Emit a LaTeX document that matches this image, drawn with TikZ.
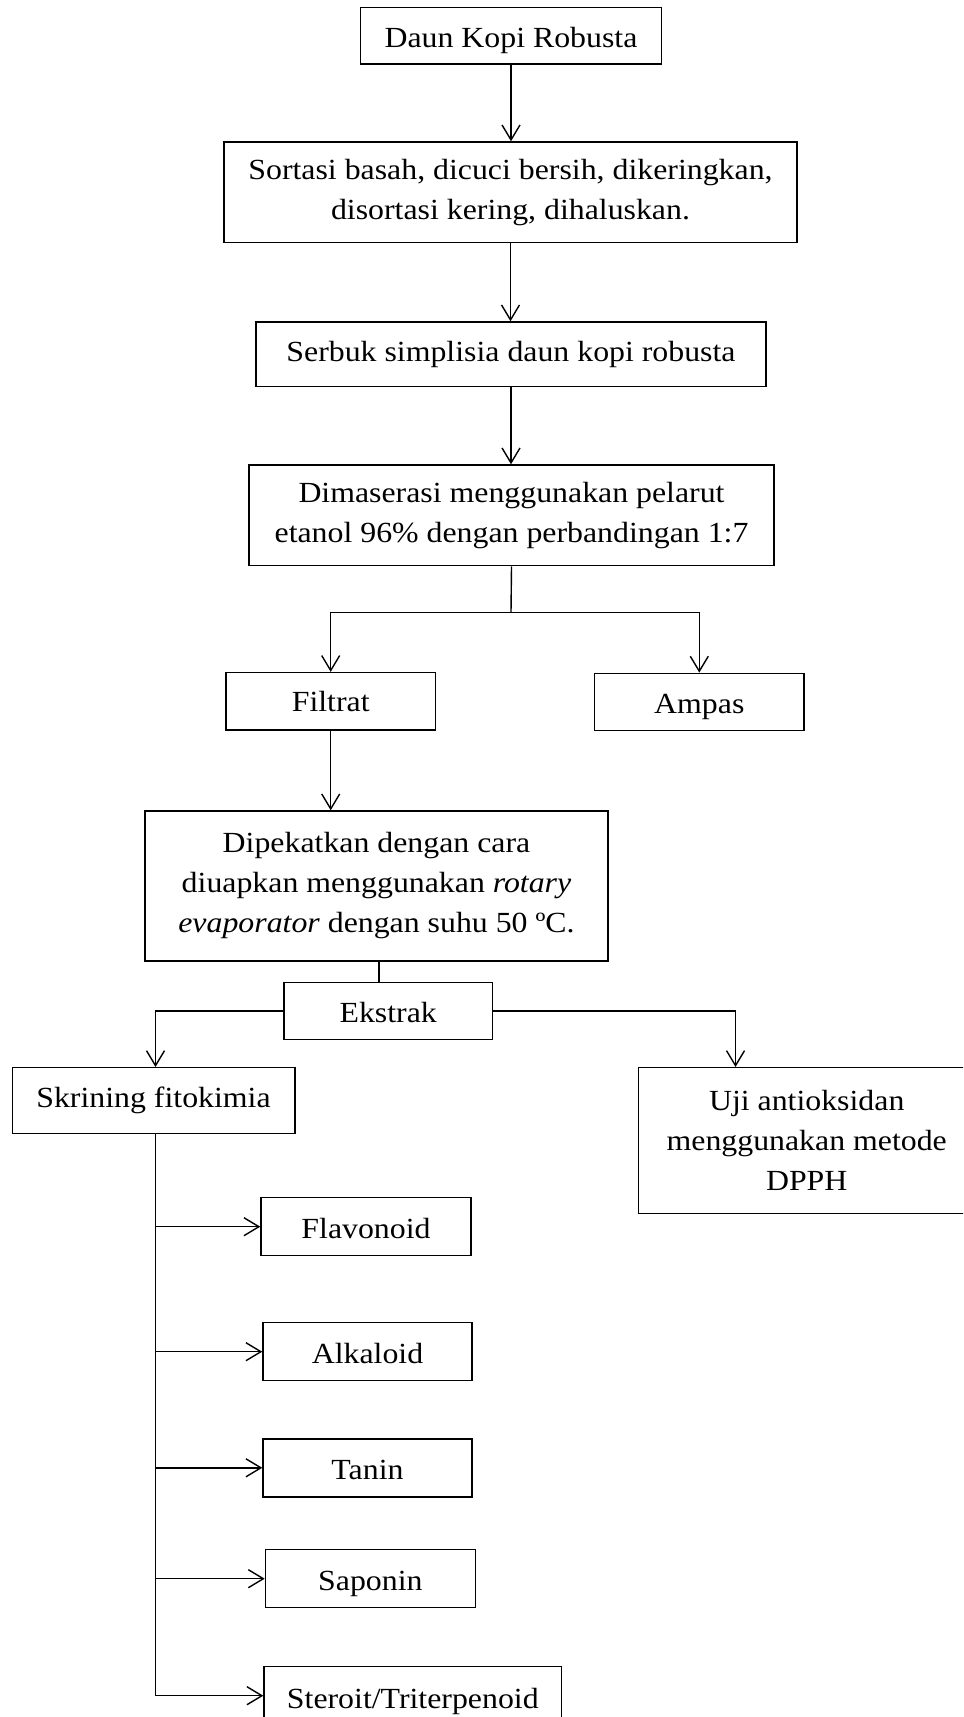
\documentclass[tikz,border=0pt]{standalone}
\usepackage{fontspec}
\setmainfont[FakeStretch=1.09]{Liberation Serif}
\usetikzlibrary{arrows.meta}
\begin{document}
\begin{tikzpicture}[x=0.5pt,y=-0.5pt,
  box/.style={draw, line width=0.7pt, inner sep=0pt, align=center, font=\fontsize{14.6pt}{20pt}\selectfont},
  bl/.style={text depth=3pt, text height=#1},
  conn/.style={line width=0.7pt},
  arr/.style={conn, -{Straight Barb[length=7.5pt,width=9pt]}}]
\useasboundingbox (0,0) rectangle (963,1717);
\clip (0,0) rectangle (963,1717);
\node[box, bl=15pt, minimum width=150.5pt, minimum height=28.3pt] (n1) at (511,35.7) {Daun Kopi Robusta};
\node[box, minimum width=286.5pt, minimum height=50.3pt] (n2) at (510.5,192.3) {Sortasi basah, dicuci bersih, dikeringkan,\\disortasi kering, dihaluskan.};
\node[box, bl=10.4pt, minimum width=255pt, minimum height=32.3pt] (n3) at (511,354.3) {Serbuk simplisia daun kopi robusta};
\node[box, minimum width=262.5pt, minimum height=50.3pt] (n4) at (511.5,515.3) {Dimaserasi menggunakan pelarut\\etanol 96\% dengan perbandingan 1:7};
\node[box, bl=13.4pt, minimum width=104.7pt, minimum height=28.7pt] (fil) at (330.7,701.3) {Filtrat};
\node[box, bl=14.3pt, minimum width=104.7pt, minimum height=28.7pt] (amp) at (699.3,702) {Ampas};
\node[box, minimum width=231.5pt, minimum height=75pt] (dip) at (376.5,886) {Dipekatkan dengan cara\\diuapkan menggunakan \textit{rotary}\\\textit{evaporator} dengan suhu 50 ºC.};
\node[box, bl=14.9pt, minimum width=104.4pt, minimum height=28.5pt] (eks) at (388.2,1010.8) {Ekstrak};
\node[box, bl=10.2pt, minimum width=141.3pt, minimum height=32.8pt] (skr) at (153.5,1100.5) {Skrining fitokimia};
\node[box, minimum width=168.5pt, minimum height=72.8pt] (uji) at (806.7,1140.5) {Uji antioksidan\\menggunakan metode\\DPPH};
\node[box, bl=14.6pt, minimum width=105pt, minimum height=29pt] (fla) at (366,1226.7) {Flavonoid};
\node[box, bl=14.6pt, minimum width=104.5pt, minimum height=29pt] (alk) at (367.5,1351.7) {Alkaloid};
\node[box, bl=14.5pt, minimum width=104.5pt, minimum height=29pt] (tan) at (367.5,1467.8) {Tanin};
\node[box, bl=14.3pt, minimum width=105pt, minimum height=29pt] (sap) at (370.4,1578.7) {Saponin};
\node[box, bl=15.3pt, minimum width=148.8pt, minimum height=29pt] (ste) at (412.8,1695.7) {Steroit/Triterpenoid};
\coordinate (b4) at (511,612.3);
\draw[arr] (n1.south) -- (n1.south |- n2.north);
\draw[arr] (n2.south) -- (n2.south |- n3.north);
\draw[arr] (n3.south) -- (n3.south |- n4.north);
\draw[conn] (n4.south) -- (b4);
\draw[arr] (b4) -| (fil.north);
\draw[arr] (b4) -| (amp.north);
\draw[arr] (fil.south) -- (fil.south |- dip.north);
\draw[conn] ([xshift=1.2pt]dip.south) -- ([xshift=1.2pt]dip.south |- eks.north);
\draw[arr] (eks.west) -| ([xshift=1pt]skr.north);
\draw[arr] (eks.east) -| ([xshift=49pt]uji.north west);
\coordinate (sk) at ([xshift=1pt]skr.south);
\draw[conn] (sk) -- (sk |- ste.west);
\draw[arr] (sk |- fla.west) -- (fla.west);
\draw[arr] (sk |- alk.west) -- (alk.west);
\draw[arr] (sk |- tan.west) -- (tan.west);
\draw[arr] (sk |- sap.west) -- (sap.west);
\draw[arr] (sk |- ste.west) -- (ste.west);
\end{tikzpicture}
\end{document}
